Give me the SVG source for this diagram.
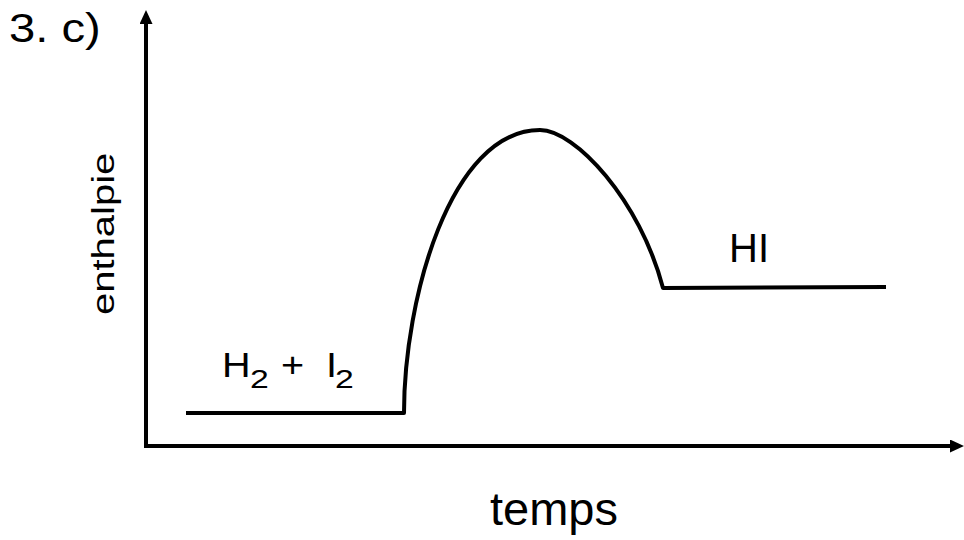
<svg xmlns="http://www.w3.org/2000/svg" width="964" height="540" viewBox="0 0 964 540">
<style>
.ln{fill:none;stroke:#000;stroke-width:4;stroke-linecap:butt;stroke-linejoin:round}
.ax{fill:none;stroke:#000;stroke-width:4}
.t{font-family:"Liberation Sans",Arial,sans-serif;fill:#000}
.big{font-size:36px}
.sub{font-size:25px}
</style>
<defs>
<marker id="ah" markerUnits="userSpaceOnUse" markerWidth="16" markerHeight="14" refX="1" refY="6.5" orient="auto">
<path d="M0,0 L14,6.5 L0,13 z" fill="#000"/>
</marker>
</defs>
<rect width="964" height="540" fill="#fff"/>
<g id="connectors">
<line class="ax" x1="146" y1="448" x2="146" y2="23" marker-end="url(#ah)"/>
<line class="ax" x1="144" y1="446" x2="951" y2="446" marker-end="url(#ah)"/>
<path class="ln" d="M186,413 L404,413 C404,300 450,130 540,130 C575,130 640,200 663,288 L886,287"/>
</g>
<g id="title"><text class="t" font-size="40" transform="translate(9,42) scale(1.18,1)">3. c)</text></g>
<g id="ylabel"><text class="t" font-size="32" transform="translate(114,315) rotate(-90) scale(1.25,1)">enthalpie</text></g>
<g id="xlabel"><text class="t" x="490" y="525" font-size="47">temps</text></g>
<g id="reactants">
<text class="t big" transform="translate(222,377) scale(1.1,1)">H</text>
<text class="t sub" transform="translate(250,388) scale(1.35,1)">2</text>
<text class="t big" transform="translate(281,377) scale(1.1,1)">+</text>
<text class="t big" transform="translate(326,377) scale(1.1,1)">I</text>
<text class="t sub" transform="translate(335,388) scale(1.35,1)">2</text>
</g>
<g id="product"><text class="t" x="729" y="262" font-size="40">HI</text></g>
</svg>
